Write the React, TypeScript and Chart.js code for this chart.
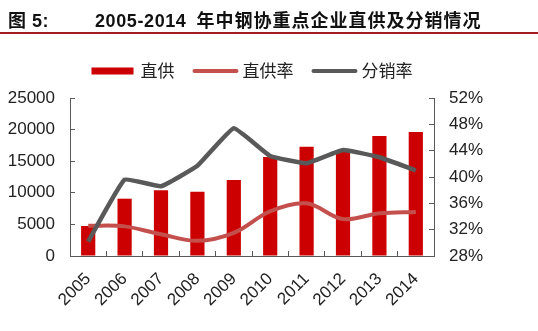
import React, { useEffect, useRef } from "react";
import { Chart, registerables } from "chart.js";

Chart.register(...registerables);

const years = ["2005", "2006", "2007", "2008", "2009", "2010", "2011", "2012", "2013", "2014"];
const directSupply = [4750, 9070, 10400, 10180, 12030, 15660, 17300, 16600, 18990, 19620];
const directRate = [32.6, 32.5, 31.3, 30.3, 31.5, 34.8, 36.0, 33.6, 34.5, 34.7];
const distributionRate = [30.2, 39.6, 38.6, 41.7, 47.4, 43.2, 42.1, 44.1, 43.0, 41.0];
const leftTicks = [0, 5000, 10000, 15000, 20000, 25000];
const rightTicks = [28, 32, 36, 40, 44, 48, 52];

const BAR = "#cc0000";
const RED_LINE = "#c4504d";
const GRAY_LINE = "#595959";
const AXIS = "#5a5a5a";
const TICK_FONT = { family: "'Liberation Sans', Arial, sans-serif", size: 17 };

const legendPlugin = {
  id: "customLegend",
  afterDraw(chart: any) {
    const ctx = chart.ctx;
    const ds = chart.data.datasets;
    const markerW = 44;
    const gap = 5;
    const itemGap = 19;
    ctx.save();
    ctx.font = "17px 'Noto Sans CJK SC', sans-serif";
    const widths = ds.map((d: any) => markerW + gap + ctx.measureText(d.label).width);
    const total = widths.reduce((a: number, b: number) => a + b, 0) + itemGap * (ds.length - 1);
    const ca = chart.chartArea;
    let x = (ca.left + ca.right) / 2 - total / 2;
    const y = 71;
    ds.forEach((d: any, i: number) => {
      if (d.type === "bar") {
        ctx.fillStyle = d.backgroundColor;
        ctx.fillRect(x, y - 3.5, markerW - 2, 7);
      } else {
        ctx.strokeStyle = d.borderColor;
        ctx.lineWidth = 4;
        ctx.lineCap = "round";
        ctx.beginPath();
        ctx.moveTo(x + 1, y);
        ctx.lineTo(x + markerW - 1, y);
        ctx.stroke();
      }
      ctx.fillStyle = "#222";
      ctx.textBaseline = "middle";
      ctx.textAlign = "left";
      ctx.fillText(d.label, x + markerW + gap, y);
      x += widths[i] + itemGap;
    });
    ctx.restore();
  },
};

export default function App() {
  const ref = useRef<HTMLCanvasElement>(null);

  useEffect(() => {
    if (!ref.current) return;
    const chart = new Chart(ref.current, {
      type: "bar",
      data: {
        labels: years,
        datasets: [
          {
            type: "bar",
            label: "直供",
            data: directSupply,
            backgroundColor: BAR,
            yAxisID: "y",
            order: 2,
            barPercentage: 0.39,
            categoryPercentage: 1,
          },
          {
            type: "line",
            label: "直供率",
            data: directRate,
            borderColor: RED_LINE,
            backgroundColor: RED_LINE,
            borderWidth: 4,
            pointRadius: 0,
            tension: 0.35,
            yAxisID: "y1",
            order: 1,
          },
          {
            type: "line",
            label: "分销率",
            data: distributionRate,
            borderColor: GRAY_LINE,
            backgroundColor: GRAY_LINE,
            borderWidth: 4.5,
            pointRadius: 0,
            tension: 0.1,
            yAxisID: "y1",
            order: 0,
          },
        ] as any,
      },
      options: {
        animation: false,
        responsive: false,
        maintainAspectRatio: false,
        layout: { padding: { top: 98, left: 0, right: 0, bottom: 0 } },
        plugins: {
          legend: { display: false },
          tooltip: { enabled: false },
          title: { display: false },
        },
        scales: {
          x: {
            offset: true,
            grid: {
              offset: true,
              drawOnChartArea: false,
              drawTicks: true,
              tickLength: -5,
              color: AXIS,
            },
            border: { color: AXIS, width: 1 },
            ticks: {
              color: "#222",
              font: TICK_FONT,
              maxRotation: 45,
              minRotation: 45,
              padding: 18,
            },
            afterFit(scale: any) {
              scale.height = 75;
            },
          },
          y: {
            position: "left",
            min: 0,
            max: 25000,
            afterBuildTicks(scale: any) {
              scale.ticks = leftTicks.map((v) => ({ value: v }));
            },
            grid: {
              drawOnChartArea: false,
              drawTicks: true,
              tickLength: -5,
              color: AXIS,
            },
            border: { color: AXIS, width: 1 },
            ticks: {
              color: "#222",
              font: TICK_FONT,
              padding: 20,
              callback: (v: any) => String(v),
            },
            afterFit(scale: any) {
              scale.width = 70;
            },
          },
          y1: {
            position: "right",
            min: 28,
            max: 52,
            afterBuildTicks(scale: any) {
              scale.ticks = rightTicks.map((v) => ({ value: v }));
            },
            grid: {
              drawOnChartArea: false,
              drawTicks: true,
              tickLength: -5,
              color: AXIS,
            },
            border: { color: AXIS, width: 1 },
            ticks: {
              color: "#222",
              font: TICK_FONT,
              padding: 20,
              callback: (v: any) => v + "%",
            },
            afterFit(scale: any) {
              scale.width = 104;
            },
          },
        },
      } as any,
      plugins: [legendPlugin],
    });
    return () => chart.destroy();
  }, []);

  const titleFont = "bold 18px 'Liberation Sans', 'Noto Sans CJK SC', sans-serif";

  return (
    <div style={{ position: "absolute", left: 0, top: 0, width: 538, height: 331, background: "#fff" }}>
      <canvas ref={ref} width={538} height={331} style={{ position: "absolute", left: 0, top: 0, width: 538, height: 331 }} />
      <div
        style={{
          position: "absolute",
          left: 8,
          top: 6,
          font: titleFont,
          color: "#111",
          whiteSpace: "nowrap",
          letterSpacing: "0.5px",
        }}
      >
        图 5:
      </div>
      <div
        style={{
          position: "absolute",
          left: 95,
          top: 6,
          font: titleFont,
          color: "#111",
          whiteSpace: "nowrap",
          letterSpacing: "0.6px",
        }}
      >
        <span>2005-2014</span>
        <span style={{ marginLeft: 10, letterSpacing: "1px" }}>年中钢协重点企业直供及分销情况</span>
      </div>
      <div style={{ position: "absolute", left: 0, top: 32, width: 538, height: 2, background: "#a51c1f" }} />
    </div>
  );
}
